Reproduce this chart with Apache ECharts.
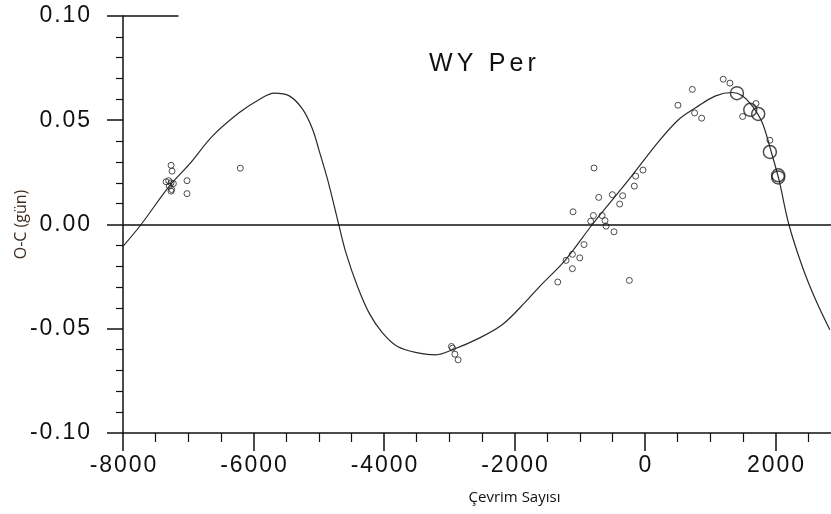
<!DOCTYPE html>
<html>
<head>
<meta charset="utf-8">
<script src="https://cdn.jsdelivr.net/npm/echarts@6/dist/echarts.min.js"></script>
<style>
  html, body { margin: 0; padding: 0; background: #fff; }
  #chart { width: 831px; height: 514px; }
</style>
</head>
<body>
<div id="chart"></div>
<script>
// Cycle number (E) and O-C residuals in days for WY Per
const smallE = [-7263, -7248, -7340, -7300, -7263, -7228, -7290, -7254, -7263, -7019, -7019, -6202,
  -2966, -2950, -2914, -2864,
  -781, -31, -143, -164, -709, -500, -342, -388, -1103, -791, -658, -832, -613, -597, -475,
  -934, -1113, -1210, -1000, -1113, -1337, -240,
  505, 725, 760, 868, 1199, 1302, 1700, 1496, 1914];
const smallOC = [0.0284, 0.0256, 0.0205, 0.0210, 0.0200, 0.0196, 0.0184, 0.0168, 0.0160, 0.0210, 0.0148, 0.0270,
  -0.0585, -0.0593, -0.0622, -0.0649,
  0.0271, 0.0261, 0.0232, 0.0184, 0.0130, 0.0143, 0.0138, 0.0098, 0.0061, 0.0043, 0.0043, 0.0016, 0.0019, -0.0008, -0.0035,
  -0.0096, -0.0143, -0.0172, -0.0160, -0.0212, -0.0276, -0.0268,
  0.0572, 0.0648, 0.0535, 0.0510, 0.0697, 0.0678, 0.0580, 0.0518, 0.0404];

// High-weight (photoelectric/CCD) minima
const largeE = [1409, 1613, 1735, 1914, 2041, 2041];
const largeOC = [0.0630, 0.0550, 0.0530, 0.0348, 0.0236, 0.0226];

// Fitted light-time curve, sampled
const fitE = [-8000, -7723, -7290, -6986, -6626, -6217, -5911, -5681, -5452, -5248, -5095, -4992,
  -4865, -4696, -4583, -4406, -4227, -4023, -3793, -3461, -3206, -2951, -2542, -2185, -1828,
  -1623, -1215, -807, -245, 214, 521, 776, 1083, 1337, 1490, 1643, 1796, 1924, 2052, 2205,
  2409, 2613, 2833];
const fitOC = [-0.0105, 0.0000, 0.0184, 0.0288, 0.0425, 0.0537, 0.0600, 0.0630, 0.0617, 0.0553, 0.0457, 0.0352,
  0.0216, 0.0003, -0.0136, -0.0297, -0.0425, -0.0520, -0.0585, -0.0617, -0.0625, -0.0601, -0.0545, -0.0480, -0.0370,
  -0.0300, -0.0168, 0.0000, 0.0216, 0.0400, 0.0505, 0.0560, 0.0617, 0.0633, 0.0617, 0.0569, 0.0489, 0.0360, 0.0216, 0.0000,
  -0.0200, -0.0360, -0.0505];

const xTicks = { min: -8000, max: 4000, step: 2000 };
const yTicks = { min: -0.10, max: 0.10, step: 0.05 };

const pair = (xs, ys) => xs.map((x, i) => [x, ys[i]]);
const spaced = (s, gap) => s.split('').join(gap);
const SIXTH = '\u2006';
const HAIR = '\u200A';

const INK = '#111';
const tickFont = "'Liberation Sans', Arial, sans-serif";

const chart = echarts.init(document.getElementById('chart'), null, { renderer: 'canvas' });
chart.setOption({
  animation: false,
  backgroundColor: '#fff',
  title: {
    text: spaced('WY Per', SIXTH),
    left: 424, top: 47,
    textStyle: { fontFamily: tickFont, fontSize: 25, fontWeight: 'normal', color: INK }
  },
  grid: { left: 123, top: 16, width: 783, height: 417, outerBoundsMode: 'none' },
  xAxis: {
    type: 'value',
    min: xTicks.min, max: xTicks.max, interval: xTicks.step,
    name: 'Çevrim Sayısı', nameLocation: 'middle', nameGap: 57,
    nameMoveOverlap: false,
    nameTextStyle: { fontFamily: "'Open Sans', sans-serif", fontSize: 15, color: INK },
    axisLine: { onZero: false, lineStyle: { color: INK, width: 1.5 } },
    axisTick: { inside: false, length: 18, lineStyle: { color: INK, width: 1.5 } },
    minorTick: { show: true, splitNumber: 4, length: 9, lineStyle: { color: INK, width: 1.2 } },
    axisLabel: {
      margin: 21, fontFamily: tickFont, fontSize: 23, color: INK,
      formatter: v => spaced(String(v), HAIR)
    },
    splitLine: { show: false }
  },
  yAxis: {
    type: 'value',
    min: yTicks.min, max: yTicks.max, interval: yTicks.step,
    name: 'O-C (gün)', nameLocation: 'middle', nameGap: 94, nameRotate: 90,
    nameMoveOverlap: false,
    nameTextStyle: { fontFamily: "'Open Sans', sans-serif", fontSize: 16, color: '#3b2a1e' },
    axisLine: { onZero: false, lineStyle: { color: INK, width: 1.5 } },
    axisTick: { inside: false, length: 16, lineStyle: { color: INK, width: 1.5 } },
    minorTick: { show: true, splitNumber: 5, length: 7, lineStyle: { color: INK, width: 1.2 } },
    axisLabel: {
      margin: 33, fontFamily: tickFont, fontSize: 23, color: INK,
      formatter: v => spaced(v.toFixed(2), HAIR)
    },
    splitLine: { show: false }
  },
  series: [
    {
      type: 'line',
      data: pair(fitE, fitOC),
      smooth: 0.35,
      showSymbol: false,
      lineStyle: { color: '#2a2a2a', width: 1.2 },
      z: 3,
      markLine: {
        silent: true, symbol: 'none', label: { show: false },
        lineStyle: { color: INK, width: 1.5, type: 'solid' },
        data: [
          { yAxis: 0 },
          [{ coord: [xTicks.min, yTicks.max] }, { coord: [-7150, yTicks.max] }]
        ]
      }
    },
    {
      type: 'scatter',
      data: pair(smallE, smallOC),
      symbol: 'circle', symbolSize: 6,
      itemStyle: { color: 'rgba(255,255,255,0)', borderColor: '#222', borderWidth: 1 },
      z: 4
    },
    {
      type: 'scatter',
      data: pair(largeE, largeOC),
      symbol: 'circle', symbolSize: 13,
      itemStyle: { color: 'rgba(255,255,255,0)', borderColor: '#222', borderWidth: 1.5 },
      z: 4
    }
  ]
});
</script>
</body>
</html>
